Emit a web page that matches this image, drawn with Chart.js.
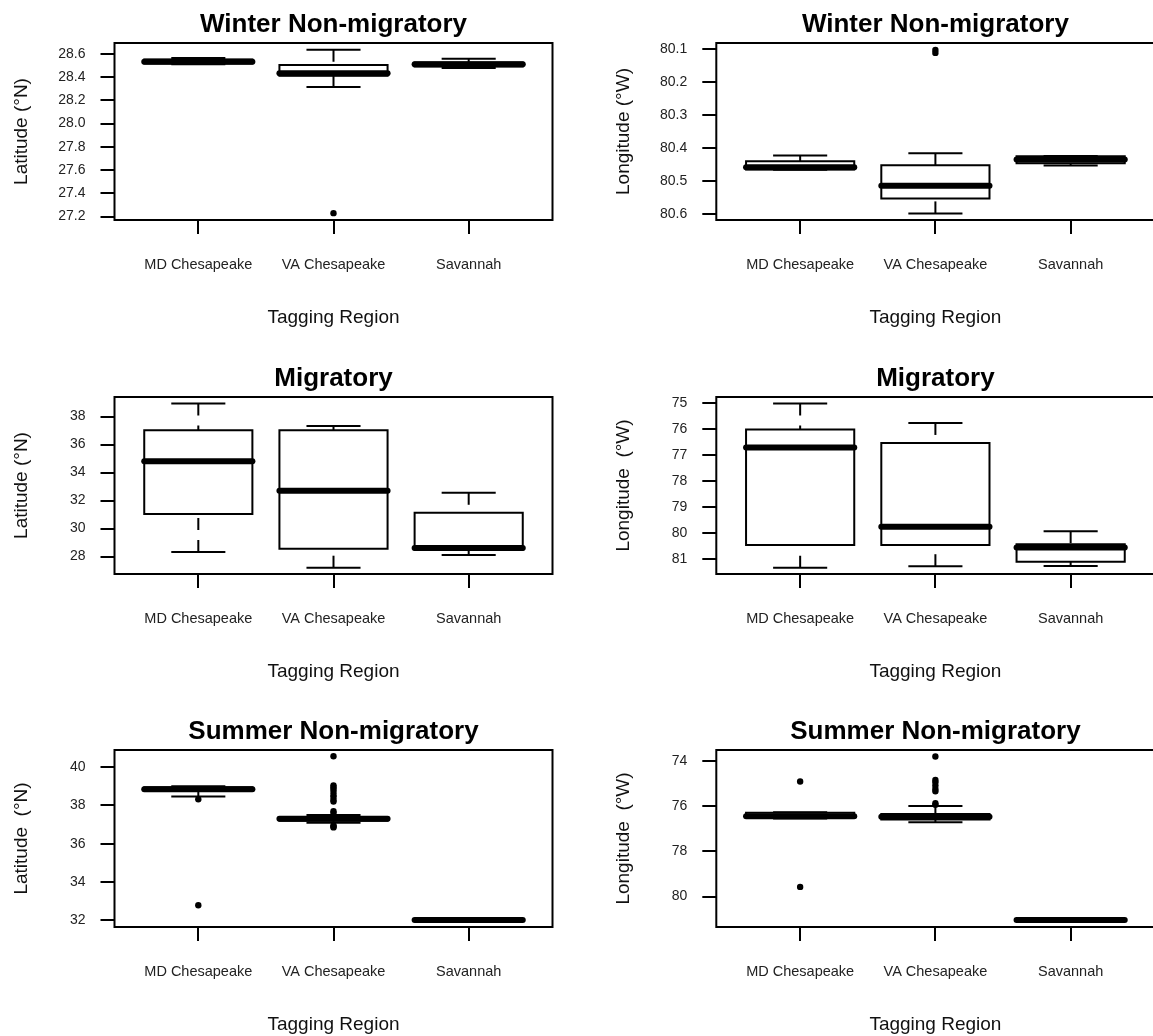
<!DOCTYPE html>
<html>
<head>
<meta charset="utf-8">
<script src="https://cdn.jsdelivr.net/npm/chart.js@4.4.1/dist/chart.umd.min.js"></script>
<style>
  html, body { margin: 0; padding: 0; background: #fff; width: 1153px; height: 1036px; overflow: hidden; }
  canvas { position: absolute; }
</style>
</head>
<body>
<script>
const FONT = "'Liberation Sans', Arial, Helvetica, sans-serif";

const regions = ["MD Chesapeake", "VA Chesapeake", "Savannah"];

// each box: [lower whisker, Q1, median, Q3, upper whisker]
const winterLatStats = [
  [28.510, 28.515, 28.530, 28.550, 28.563],
  [28.314, 28.410, 28.432, 28.503, 28.634],
  [28.478, 28.490, 28.510, 28.525, 28.557]
];
const winterLatOutliers = [[], [27.23], []];
const winterLatTicks = [27.2, 27.4, 27.6, 27.8, 28.0, 28.2, 28.4, 28.6];
const winterLatRange = [27.171, 28.692];

const winterLonStats = [
  [80.423, 80.440, 80.458, 80.465, 80.466],
  [80.416, 80.452, 80.514, 80.553, 80.598],
  [80.424, 80.425, 80.435, 80.446, 80.453]
];
const winterLonOutliers = [[], [80.103, 80.112], []];
const winterLonTicks = [80.1, 80.2, 80.3, 80.4, 80.5, 80.6];
const winterLonRange = [80.082, 80.618];

const migLatStats = [
  [28.34, 31.05, 34.82, 37.02, 38.93],
  [27.21, 28.57, 32.70, 37.02, 37.33],
  [28.12, 28.50, 28.62, 31.13, 32.56]
];
const migLatOutliers = [[], [], []];
const migLatTicks = [28, 30, 32, 34, 36, 38];
const migLatRange = [26.76, 39.40];

const migLonStats = [
  [75.00, 76.00, 76.70, 80.45, 81.33],
  [75.75, 76.52, 79.75, 80.45, 81.27],
  [79.92, 80.42, 80.55, 81.10, 81.26]
];
const migLonOutliers = [[], [], []];
const migLonTicks = [75, 76, 77, 78, 79, 80, 81];
const migLonRange = [74.75, 81.57];

const summerLatStats = [
  [38.47, 38.75, 38.85, 38.95, 39.00],
  [37.10, 37.20, 37.30, 37.35, 37.50],
  [31.99, 32.00, 32.00, 32.01, 32.01]
];
const summerLatOutliers = [
  [38.32, 32.78],
  [40.57, 39.05, 38.95, 38.85, 38.70, 38.55, 38.45, 38.30, 38.20, 37.70, 37.60, 36.95, 36.90, 36.85],
  []
];
const summerLatTicks = [32, 34, 36, 38, 40];
const summerLatRange = [31.64, 40.90];

const summerLonStats = [
  [76.28, 76.30, 76.45, 76.50, 76.55],
  [76.00, 76.35, 76.48, 76.60, 76.72],
  [81.02, 81.03, 81.03, 81.03, 81.04]
];
const summerLonOutliers = [
  [74.92, 79.57],
  [73.82, 74.85, 74.95, 75.10, 75.25, 75.35, 75.88, 75.95],
  []
];
const summerLonTicks = [74, 76, 78, 80];
const summerLonRange = [73.53, 81.34];

// layout of the 3x2 grid (pixels)
const ROW_TOP = [0, 354, 707];
const COL_LEFT = [0, 576];
const CANVAS_W = [576, 602];
const CANVAS_H = 354;
const AXIS_W = [114.5, 140.3];
const YTITLE_PAD = [10.6, 36.4];

const panels = [
  { row: 0, col: 0, title: "Winter Non-migratory", yLabel: "Latitude (°N)", stats: winterLatStats, outliers: winterLatOutliers, ticks: winterLatTicks, range: winterLatRange, reverse: false, dec: 1 },
  { row: 0, col: 1, title: "Winter Non-migratory", yLabel: "Longitude (°W)", stats: winterLonStats, outliers: winterLonOutliers, ticks: winterLonTicks, range: winterLonRange, reverse: true, dec: 1 },
  { row: 1, col: 0, title: "Migratory", yLabel: "Latitude (°N)", stats: migLatStats, outliers: migLatOutliers, ticks: migLatTicks, range: migLatRange, reverse: false, dec: 0 },
  { row: 1, col: 1, title: "Migratory", yLabel: "Longitude  (°W)", stats: migLonStats, outliers: migLonOutliers, ticks: migLonTicks, range: migLonRange, reverse: true, dec: 0 },
  { row: 2, col: 0, title: "Summer Non-migratory", yLabel: "Latitude  (°N)", stats: summerLatStats, outliers: summerLatOutliers, ticks: summerLatTicks, range: summerLatRange, reverse: false, dec: 0 },
  { row: 2, col: 1, title: "Summer Non-migratory", yLabel: "Longitude  (°W)", stats: summerLonStats, outliers: summerLonOutliers, ticks: summerLonTicks, range: summerLonRange, reverse: true, dec: 0 }
];

function seg(ctx, x0, y0, x1, y1) {
  ctx.beginPath();
  ctx.moveTo(x0, y0);
  ctx.lineTo(x1, y1);
  ctx.stroke();
}

// draws the boxes, whiskers and medians through the chart scales, then frame + title
const boxPlugin = {
  id: "boxplot",
  beforeDatasetsDraw(chart, args, opts) {
    const ctx = chart.ctx;
    const x = chart.scales.x, y = chart.scales.y;
    ctx.save();
    ctx.strokeStyle = "#000";
    opts.stats.forEach((s, i) => {
      const c = i + 1;
      const x0 = x.getPixelForValue(c - 0.4), x1 = x.getPixelForValue(c + 0.4);
      const s0 = x.getPixelForValue(c - 0.2), s1 = x.getPixelForValue(c + 0.2);
      const xc = x.getPixelForValue(c);
      const [lo, q1, med, q3, hi] = s.map(v => y.getPixelForValue(v));
      ctx.lineWidth = 2;
      ctx.lineCap = "butt";
      ctx.fillStyle = "#fff";
      ctx.beginPath();
      ctx.rect(x0, q1, x1 - x0, q3 - q1);
      ctx.fill();
      ctx.stroke();
      ctx.setLineDash([12, 10]);
      seg(ctx, xc, lo, xc, q1);
      seg(ctx, xc, hi, xc, q3);
      ctx.setLineDash([]);
      seg(ctx, s0, lo, s1, lo);
      seg(ctx, s0, hi, s1, hi);
      ctx.lineWidth = 6;
      ctx.lineCap = "round";
      seg(ctx, x0, med, x1, med);
    });
    ctx.restore();
  },
  afterDraw(chart, args, opts) {
    const ctx = chart.ctx;
    const a = chart.chartArea;
    ctx.save();
    ctx.strokeStyle = "#000";
    ctx.lineWidth = 2;
    ctx.strokeRect(a.left, a.top, a.right - a.left, a.bottom - a.top);
    ctx.fillStyle = "#000";
    ctx.font = "bold 26px " + FONT;
    ctx.textAlign = "center";
    ctx.textBaseline = "alphabetic";
    ctx.fillText(opts.title, chart.scales.x.getPixelForValue(2), a.top - 11);
    ctx.restore();
  }
};

panels.forEach(p => {
  const cv = document.createElement("canvas");
  cv.width = CANVAS_W[p.col];
  cv.height = CANVAS_H;
  cv.style.left = COL_LEFT[p.col] + "px";
  cv.style.top = ROW_TOP[p.row] + "px";
  document.body.appendChild(cv);

  const pts = [];
  p.outliers.forEach((vals, i) => vals.forEach(v => pts.push({ x: i + 1, y: v })));

  new Chart(cv, {
    type: "scatter",
    data: {
      datasets: [{
        data: pts,
        pointRadius: 3.2,
        pointHoverRadius: 3.2,
        pointBackgroundColor: "#000",
        pointBorderWidth: 0
      }]
    },
    options: {
      responsive: false,
      animation: false,
      devicePixelRatio: 1,
      events: [],
      layout: { padding: { top: 43, right: 23.5, bottom: 0, left: 0 } },
      plugins: {
        legend: { display: false },
        tooltip: { enabled: false },
        boxplot: { stats: p.stats, title: p.title }
      },
      scales: {
        x: {
          type: "linear",
          min: 0.38,
          max: 3.62,
          afterBuildTicks: s => { s.ticks = [1, 2, 3].map(v => ({ value: v })); },
          afterFit: s => { s.height = 134; },
          ticks: {
            callback: v => regions[v - 1],
            autoSkip: false,
            maxRotation: 0,
            padding: 22,
            color: "#222",
            font: { size: 14.5, family: FONT }
          },
          grid: { drawOnChartArea: false, drawTicks: true, tickLength: 14, color: "#000", lineWidth: 2 },
          border: { display: false },
          title: {
            display: true,
            text: "Tagging Region",
            color: "#111",
            font: { size: 19, family: FONT },
            padding: { top: 0, bottom: 24.6 }
          }
        },
        y: {
          type: "linear",
          min: p.range[0],
          max: p.range[1],
          reverse: p.reverse,
          afterBuildTicks: s => { s.ticks = p.ticks.map(v => ({ value: v })); },
          afterFit: s => { s.width = AXIS_W[p.col]; },
          ticks: {
            callback: v => v.toFixed(p.dec),
            padding: 15,
            color: "#222",
            font: { size: 14, family: FONT }
          },
          grid: { drawOnChartArea: false, drawTicks: true, tickLength: 14, color: "#000", lineWidth: 2 },
          border: { display: false },
          title: {
            display: true,
            text: p.yLabel,
            color: "#111",
            font: { size: 19, family: FONT },
            padding: { top: YTITLE_PAD[p.col], bottom: 0 }
          }
        }
      }
    },
    plugins: [boxPlugin]
  });
});
</script>
</body>
</html>
